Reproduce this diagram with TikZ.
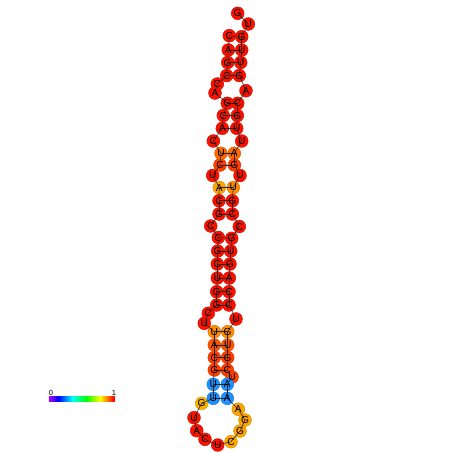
\documentclass[tikz,border=0pt]{standalone}
\usepackage{fontspec}
\setmainfont{Liberation Sans}
\definecolor{cR}{RGB}{250,18,0}
\definecolor{cOR}{RGB}{255,62,0}
\definecolor{cOA}{RGB}{255,85,0}
\definecolor{cOB}{RGB}{255,105,0}
\definecolor{cO}{RGB}{255,140,0}
\definecolor{cOL}{RGB}{255,165,0}
\definecolor{cY}{RGB}{245,180,0}
\definecolor{cB}{RGB}{30,144,255}
\tikzset{
  base/.style={circle, minimum size=12.8pt, inner sep=0pt, line width=0.5pt},
  lbl/.style={inner sep=0pt, font=\fontsize{10.2}{11}\selectfont},
  bond/.style={line width=0.55pt, black!85},
}
\begin{document}
\begin{tikzpicture}[x=1pt,y=-1pt]
\useasboundingbox (0,0) rectangle (452,452);
\foreach \n/\x/\y/\l/\c in {
1/237.7/13.3/G/cR, 2/248.3/24/U/cR, 3/241.7/36.7/G/cR, 4/241.7/50/U/cR,
5/240.7/62.5/U/cR, 6/239.3/75.5/G/cR, 7/246/90.7/A/cR, 8/237.7/103.3/C/cR,
9/237.3/115.5/G/cR, 10/236.7/128.3/U/cR, 11/241.7/141/U/cR, 12/234.3/153.3/A/cOB,
13/234.3/165/G/cOR, 14/240/175.5/U/cR, 15/233.3/187.5/U/cO, 16/232.3/200.7/G/cR,
17/232.3/214/C/cR, 18/239.3/226.5/C/cR, 19/231.7/238.3/G/cR, 20/230.7/251/U/cR,
21/230/264/G/cR, 22/229.3/278/A/cR, 23/229/291.7/C/cR, 24/229/305/C/cR,
25/236/319/U/cR, 26/227.7/331.7/G/cO, 27/227.7/345/U/cOA, 28/227.7/357.5/G/cOR,
29/227.3/370/C/cOR, 30/232/377/U/cOR, 31/227.3/384.3/A/cB, 32/227.3/398.3/A/cB,
33/238.3/409.3/A/cOL, 34/245/420/G/cOL, 35/240/431/G/cOL, 36/231/441.7/C/cOL,
37/217.7/445/U/cR, 38/205/439.3/C/cR, 39/196.7/430.7/A/cR, 40/194/417.7/U/cR,
41/201.7/403.3/G/cY, 42/213.3/398.3/U/cB, 43/213.3/384.3/U/cB, 44/214.3/370/G/cOR,
45/214.3/357.5/C/cOR, 46/214.3/345/A/cOA, 47/214.3/331.7/U/cO, 48/204.3/323.3/U/cR,
49/208.3/313.3/C/cR, 50/216.7/305/G/cR, 51/216.7/291.7/G/cR, 52/217.3/278/U/cR,
53/217.3/264/C/cR, 54/217.7/251/G/cR, 55/218.3/237.5/C/cR, 56/210.7/226/C/cR,
57/219/214/G/cR, 58/219/200.7/C/cR, 59/219.3/187.5/A/cOL, 60/212.7/175.5/U/cR,
61/220/165/C/cOR, 62/221/153.3/U/cOB, 63/213.3/141/C/cR, 64/222.3/128.3/A/cR,
65/223.3/115.5/C/cR, 66/227.3/103.3/G/cR, 67/215/93/A/cR, 68/217.3/84/C/cR,
69/226.7/75.5/C/cR, 70/227.7/62.5/G/cR, 71/228.3/50/A/cR, 72/229.3/35.7/C/cR}
{
  \node[base, fill=\c, draw=\c!85!black] (n\n) at (\x,\y) {};
}
% backbone
\foreach \i in {1,...,71} {
  \pgfmathtruncatemacro{\j}{\i+1}
  \draw[bond] (n\i.center) -- (n\j.center);
}
% base pairs
\foreach \a/\b in {3/72,4/71,5/70,6/69,8/66,9/65,10/64,12/62,13/61,15/59,16/58,17/57,
  19/55,20/54,21/53,22/52,23/51,24/50,26/47,27/46,28/45,29/44,31/43,32/42}
{
  \draw[bond] (n\a.center) -- (n\b.center);
}
\foreach \n/\l in {1/G,2/U,3/G,4/U,5/U,6/G,7/A,8/C,9/G,10/U,11/U,12/A,13/G,14/U,15/U,16/G,
17/C,18/C,19/G,20/U,21/G,22/A,23/C,24/C,25/U,26/G,27/U,28/G,29/C,30/U,31/A,32/A,
33/A,34/G,35/G,36/C,37/U,38/C,39/A,40/U,41/G,42/U,43/U,44/G,45/C,46/A,47/U,48/U,
49/C,50/G,51/G,52/U,53/C,54/G,55/C,56/C,57/G,58/C,59/A,60/U,61/C,62/U,63/C,64/A,
65/C,66/G,67/A,68/C,69/C,70/G,71/A,72/C}
{
  \node[lbl] at (n\n) {\l};
}
% colour bar
\foreach \i in {0,...,65} {
  \pgfmathsetmacro{\h}{0.78*(1-\i/65)}
  \definecolor{tmpc}{hsb}{\h,1,1}
  \fill[tmpc] (49+\i,396) rectangle (50.1+\i,401.7);
}
\node[inner sep=0pt, font=\fontsize{7.5}{8}\selectfont] (lo) at (51,392.5) {0};
\node[inner sep=0pt, font=\fontsize{7.5}{8}\selectfont] (hi) at (114,392.5) {1};
\end{tikzpicture}
\end{document}
